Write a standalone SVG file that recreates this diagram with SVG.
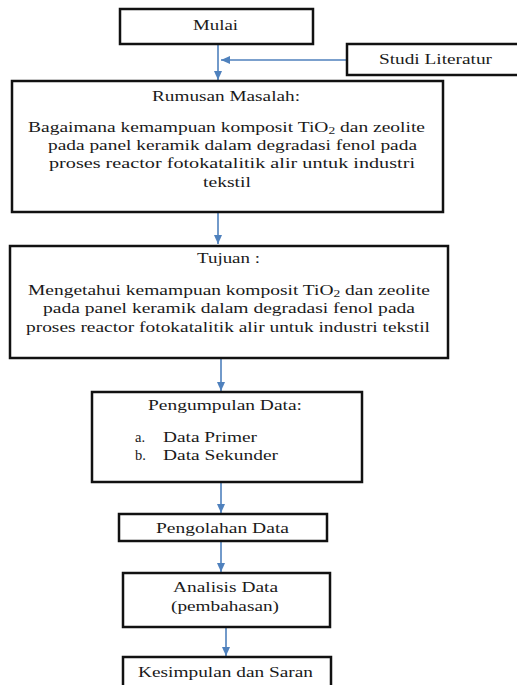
<svg xmlns="http://www.w3.org/2000/svg" width="517" height="685" viewBox="0 0 517 685">
<defs>
<style>
.box{fill:#fff;stroke:#111;stroke-width:2.5}
.t{font-family:"Liberation Serif","Times New Roman",serif;font-size:14.5px;fill:#1a1a1a}
.c{stroke:#4F81BD;stroke-width:1.6;fill:none;marker-end:url(#ah)}
</style>
<marker id="ah" markerUnits="userSpaceOnUse" markerWidth="10" markerHeight="10" viewBox="0 0 10 10" refX="9" refY="5" orient="auto">
<path d="M0,1 L9,5 L0,9 Z" fill="#4F81BD"/>
</marker>
</defs>
<rect width="517" height="685" fill="#fff"/>
<g id="connectors">
<line class="c" x1="218" y1="45" x2="218" y2="80"/>
<line class="c" x1="347" y1="60" x2="221" y2="60"/>
<line class="c" x1="218" y1="212" x2="218" y2="244"/>
<line class="c" x1="221" y1="358" x2="221" y2="391"/>
<line class="c" x1="221" y1="482" x2="221" y2="513"/>
<line class="c" x1="221" y1="541" x2="221" y2="572"/>
<line class="c" x1="226" y1="627" x2="226" y2="656"/>
</g>
<g id="mulai">
<rect class="box" x="120" y="9" width="193" height="35"/>
<text class="t" x="193" y="30" textLength="45" lengthAdjust="spacingAndGlyphs">Mulai</text>
</g>
<g id="studi">
<rect class="box" x="347" y="44" width="180" height="31"/>
<text class="t" x="379" y="64" textLength="113" lengthAdjust="spacingAndGlyphs">Studi Literatur</text>
</g>
<g id="rumusan">
<rect class="box" x="12" y="81" width="431" height="131"/>
<text class="t" x="152" y="101" textLength="148" lengthAdjust="spacingAndGlyphs">Rumusan Masalah:</text>
<text class="t" x="28" y="132" textLength="397" lengthAdjust="spacingAndGlyphs">Bagaimana kemampuan komposit TiO<tspan font-size="10" dy="2">2</tspan><tspan dy="-2"> dan zeolite</tspan></text>
<text class="t" x="48" y="150" textLength="369" lengthAdjust="spacingAndGlyphs">pada panel keramik dalam degradasi fenol pada</text>
<text class="t" x="49" y="168" textLength="366" lengthAdjust="spacingAndGlyphs">proses reactor fotokatalitik alir untuk industri</text>
<text class="t" x="203" y="187" textLength="48" lengthAdjust="spacingAndGlyphs">tekstil</text>
</g>
<g id="tujuan">
<rect class="box" x="10" y="246" width="438" height="112"/>
<text class="t" x="197" y="263" textLength="63" lengthAdjust="spacingAndGlyphs">Tujuan :</text>
<text class="t" x="28" y="295" textLength="402" lengthAdjust="spacingAndGlyphs">Mengetahui kemampuan komposit TiO<tspan font-size="10" dy="2">2</tspan><tspan dy="-2"> dan zeolite</tspan></text>
<text class="t" x="43" y="313" textLength="372" lengthAdjust="spacingAndGlyphs">pada panel keramik dalam degradasi fenol pada</text>
<text class="t" x="26" y="332" textLength="404" lengthAdjust="spacingAndGlyphs">proses reactor fotokatalitik alir untuk industri tekstil</text>
</g>
<g id="pengumpulan">
<rect class="box" x="92" y="392" width="270" height="90"/>
<text class="t" x="148" y="410" textLength="154" lengthAdjust="spacingAndGlyphs">Pengumpulan Data:</text>
<text class="t" x="135" y="442">a.</text>
<text class="t" x="163" y="442" textLength="94" lengthAdjust="spacingAndGlyphs">Data Primer</text>
<text class="t" x="135" y="460">b.</text>
<text class="t" x="163" y="460" textLength="115" lengthAdjust="spacingAndGlyphs">Data Sekunder</text>
</g>
<g id="pengolahan">
<rect class="box" x="119" y="514" width="208" height="27"/>
<text class="t" x="156" y="533" textLength="133" lengthAdjust="spacingAndGlyphs">Pengolahan Data</text>
</g>
<g id="analisis">
<rect class="box" x="123" y="573" width="207" height="54"/>
<text class="t" x="173" y="592" textLength="105" lengthAdjust="spacingAndGlyphs">Analisis Data</text>
<text class="t" x="171" y="611" textLength="108" lengthAdjust="spacingAndGlyphs">(pembahasan)</text>
</g>
<g id="kesimpulan">
<rect class="box" x="123" y="657" width="208" height="40"/>
<text class="t" x="138" y="677" textLength="175" lengthAdjust="spacingAndGlyphs">Kesimpulan dan Saran</text>
</g>
</svg>
